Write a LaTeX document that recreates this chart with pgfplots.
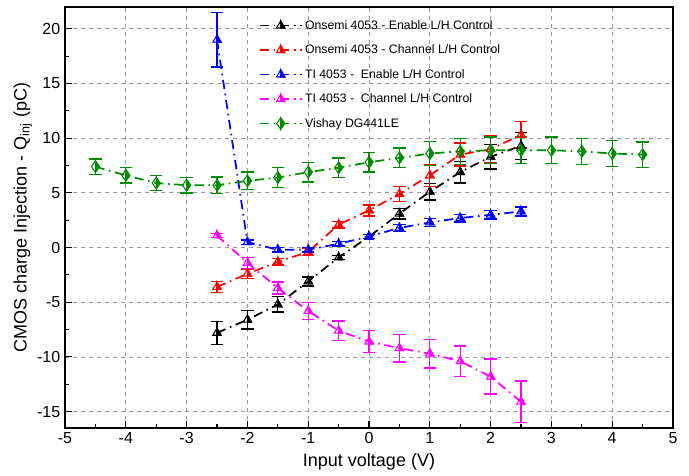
\documentclass[border=0pt]{standalone}
\usepackage{pgfplots}
\pgfplotsset{compat=1.18}
\usepackage{fontspec}
\setmainfont{Liberation Sans}
\definecolor{cgreen}{RGB}{0,140,0}
\definecolor{cmag}{RGB}{255,0,255}
\pgfdeclareplotmark{halftri}{%
  \pgfpathmoveto{\pgfqpoint{0pt}{\pgfplotmarksize}}%
  \pgfpathlineto{\pgfqpoint{0.866\pgfplotmarksize}{-0.5\pgfplotmarksize}}%
  \pgfpathlineto{\pgfqpoint{0pt}{-0.5\pgfplotmarksize}}%
  \pgfpathclose\pgfusepathqfillstroke
  \pgfpathmoveto{\pgfqpoint{0pt}{\pgfplotmarksize}}%
  \pgfpathlineto{\pgfqpoint{0.866\pgfplotmarksize}{-0.5\pgfplotmarksize}}%
  \pgfpathlineto{\pgfqpoint{-0.866\pgfplotmarksize}{-0.5\pgfplotmarksize}}%
  \pgfpathclose\pgfusepathqstroke}
\pgfdeclareplotmark{halfdia}{%
  \pgfpathmoveto{\pgfqpoint{0pt}{\pgfplotmarksize}}%
  \pgfpathlineto{\pgfqpoint{0.7\pgfplotmarksize}{0pt}}%
  \pgfpathlineto{\pgfqpoint{0pt}{-\pgfplotmarksize}}%
  \pgfpathclose\pgfusepathqfillstroke
  \pgfpathmoveto{\pgfqpoint{0pt}{\pgfplotmarksize}}%
  \pgfpathlineto{\pgfqpoint{0.7\pgfplotmarksize}{0pt}}%
  \pgfpathlineto{\pgfqpoint{0pt}{-\pgfplotmarksize}}%
  \pgfpathlineto{\pgfqpoint{-0.7\pgfplotmarksize}{0pt}}%
  \pgfpathclose\pgfusepathqstroke}
\begin{document}
\begin{tikzpicture}
\useasboundingbox (-48.75pt,-35.25pt) rectangle (468pt,321pt);
\begin{axis}[
  at={(0,0)}, anchor=south west,
  scale only axis, width=456pt, height=315.75pt,
  xmin=-5, xmax=5, ymin=-16.5, ymax=22,
  xtick={-5,-4,...,5}, ytick={-15,-10,...,20},
  minor x tick num=1, minor y tick num=1,
  tick align=inside, tick pos=left,
  major tick length=5pt, minor tick length=3pt,
  every tick/.style={black, line width=0.8pt},
  grid=major, major grid style={gray!80, dashed, line width=0.6pt},
  axis line style={line width=1.2pt},
  /pgf/number format/assume math mode=true,
  ticklabel style={font=\fontsize{12}{14}\selectfont},
  label style={font=\fontsize{13.5}{16}\selectfont},
  xlabel={Input voltage (V)},
  ylabel={CMOS charge Injection - Q\textsubscript{inj} (pC)},
  xlabel style={yshift=0pt},
  ylabel style={yshift=-3pt},
  legend style={at={(0.312,0.982)}, anchor=north west, draw=none, fill=none,
    font=\fontsize{9.2}{11}\selectfont, row sep=6.2pt},
  legend cell align=left,
  legend image code/.code={\draw[mark repeat=2,mark phase=2] plot coordinates {(0cm,0cm) (0.55cm,0cm) (1.1cm,0cm)};},
  every axis plot/.append style={line width=1.3pt, mark size=3.6pt,
    dash pattern=on 7pt off 3.5pt on 1.2pt off 3.5pt,
    error bars/error bar style={solid, line width=1pt},
    error bars/error mark options={rotate=90, mark size=4.6pt, line width=1pt, solid}},
]
\addplot[black, mark=halftri, mark options={solid, fill=black, line width=0.8pt},
  error bars/.cd, y dir=both, y explicit] coordinates {
(-2.5,-7.8) +- (0,1.05)
(-2,-6.6) +- (0,0.85)
(-1.5,-5.2) +- (0,0.7)
(-1,-3.1) +- (0,0.4)
(-0.5,-0.9) +- (0,0.2)
(0,1.0) +- (0,0.2)
(0.5,3.1) +- (0,0.5)
(1,5.1) +- (0,0.75)
(1.5,6.9) +- (0,1.0)
(2,8.3) +- (0,1.1)
(2.5,9.3) +- (0,1.25)
};
\addlegendentry{Onsemi 4053 - Enable L/H Control}
\addplot[red, mark=halftri, mark options={solid, fill=red, line width=0.8pt},
  error bars/.cd, y dir=both, y explicit] coordinates {
(-2.5,-3.6) +- (0,0.5)
(-2,-2.4) +- (0,0.45)
(-1.5,-1.3) +- (0,0.3)
(-1,-0.4) +- (0,0.3)
(-0.5,2.1) +- (0,0.3)
(0,3.4) +- (0,0.5)
(0.5,4.9) +- (0,0.7)
(1,6.6) +- (0,1.0)
(1.5,8.5) +- (0,1.05)
(2,9.0) +- (0,1.25)
(2.5,10.3) +- (0,1.2)
};
\addlegendentry{Onsemi 4053 - Channel L/H Control}
\addplot[blue, mark=halftri, mark options={solid, fill=blue, line width=0.8pt},
  error bars/.cd, y dir=both, y explicit] coordinates {
(-2.5,19.0) +- (0,2.5)
(-2,0.5) +- (0,0.2)
(-1.5,-0.2) +- (0,0.2)
(-1,-0.2) +- (0,0.2)
(-0.5,0.35) +- (0,0.2)
(0,1.0) +- (0,0.2)
(0.5,1.8) +- (0,0.3)
(1,2.3) +- (0,0.35)
(1.5,2.7) +- (0,0.35)
(2,3.0) +- (0,0.4)
(2.5,3.3) +- (0,0.4)
};
\addlegendentry{TI 4053 -\ \ Enable L/H Control}
\addplot[cmag, mark=halftri, mark options={solid, fill=cmag, line width=0.8pt},
  error bars/.cd, y dir=both, y explicit] coordinates {
(-2.5,1.1) +- (0,0.2)
(-2,-1.4) +- (0,0.5)
(-1.5,-3.7) +- (0,0.55)
(-1,-5.8) +- (0,0.8)
(-0.5,-7.6) +- (0,0.9)
(0,-8.6) +- (0,1.0)
(0.5,-9.2) +- (0,1.25)
(1,-9.7) +- (0,1.3)
(1.5,-10.4) +- (0,1.4)
(2,-11.8) +- (0,1.6)
(2.5,-14.1) +- (0,1.9)
};
\addlegendentry{TI 4053 -\ \ Channel L/H Control}
\addplot[cgreen, mark=halfdia, mark options={solid, fill=cgreen, line width=0.8pt}, mark size=4.3pt,
  error bars/.cd, y dir=both, y explicit] coordinates {
(-4.5,7.4) +- (0,0.7)
(-4,6.6) +- (0,0.7)
(-3.5,5.9) +- (0,0.7)
(-3,5.7) +- (0,0.7)
(-2.5,5.7) +- (0,0.75)
(-2,6.1) +- (0,0.8)
(-1.5,6.4) +- (0,0.9)
(-1,6.9) +- (0,0.9)
(-0.5,7.3) +- (0,0.9)
(0,7.8) +- (0,0.9)
(0.5,8.2) +- (0,0.9)
(1,8.6) +- (0,1.1)
(1.5,8.8) +- (0,1.2)
(2,8.9) +- (0,1.2)
(2.5,8.9) +- (0,1.2)
(3,8.9) +- (0,1.2)
(3.5,8.8) +- (0,1.2)
(4,8.6) +- (0,1.2)
(4.5,8.5) +- (0,1.15)
};
\addlegendentry{Vishay DG441LE}
\end{axis}
\end{tikzpicture}
\end{document}
